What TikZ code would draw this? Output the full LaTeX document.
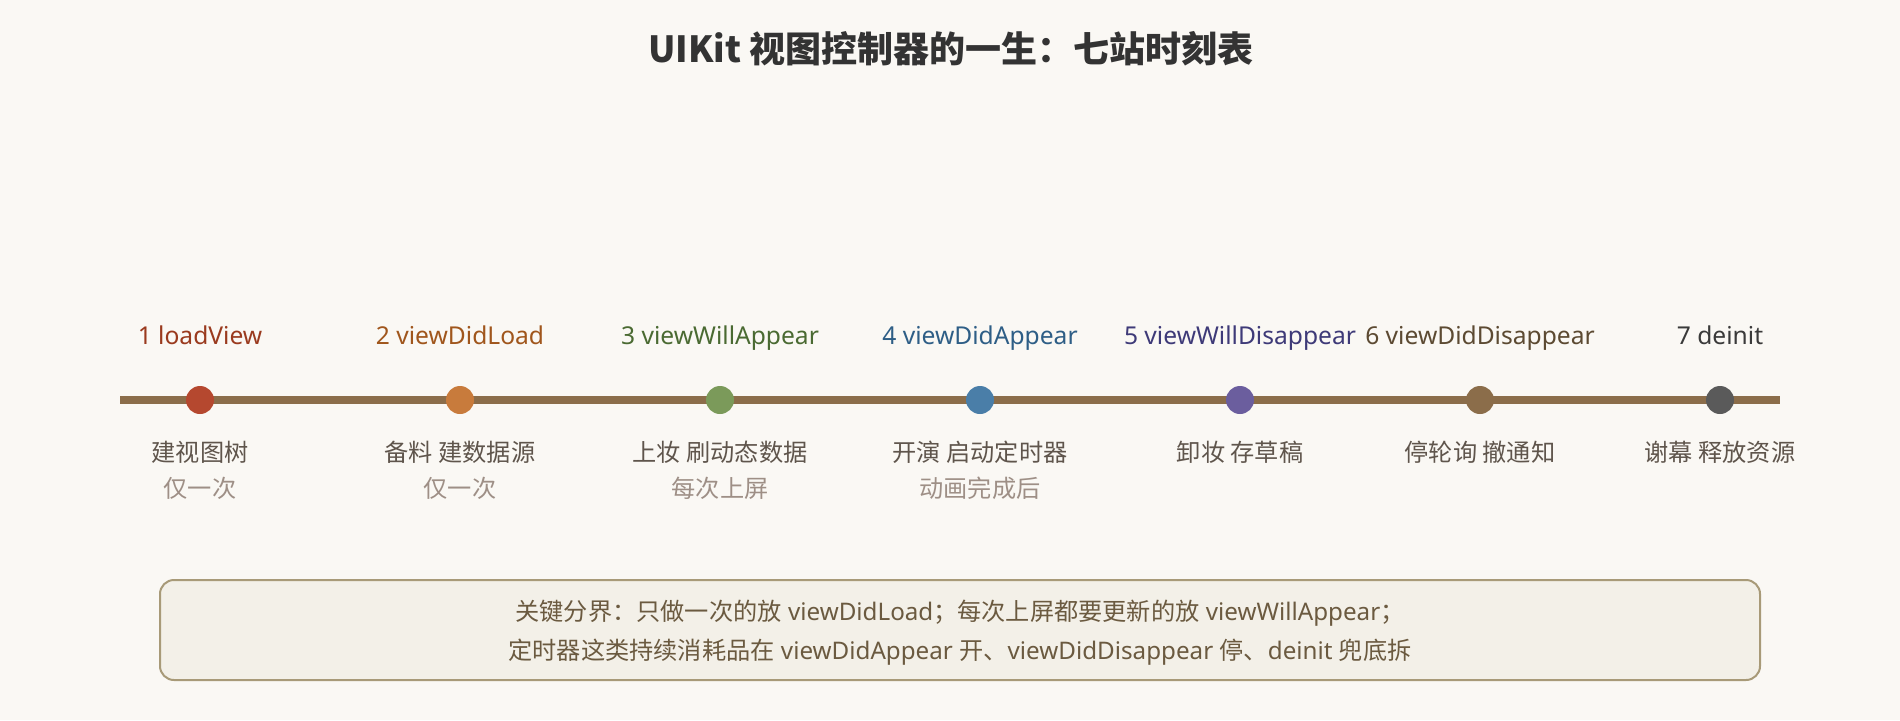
\documentclass[tikz,border=0pt]{standalone}
\usepackage{fontspec}
\newfontfamily\cjk{Noto Sans CJK SC}
\newfontfamily\lat{Noto Sans}
\definecolor{bgc}{HTML}{FAF8F4}
\definecolor{linec}{HTML}{8B6D4A}
\definecolor{titlec}{HTML}{333333}
\definecolor{dotA}{HTML}{B5482F}
\definecolor{dotB}{HTML}{C87B3C}
\definecolor{dotC}{HTML}{7B9A5A}
\definecolor{dotD}{HTML}{4A7EA8}
\definecolor{dotE}{HTML}{6B5E9E}
\definecolor{dotF}{HTML}{8B6D4A}
\definecolor{dotG}{HTML}{5A5A5A}
\definecolor{labA}{HTML}{9A3A1E}
\definecolor{labB}{HTML}{A0561C}
\definecolor{labC}{HTML}{4A6A32}
\definecolor{labD}{HTML}{2E5E86}
\definecolor{labE}{HTML}{3E3A78}
\definecolor{labF}{HTML}{5C4A32}
\definecolor{labG}{HTML}{3A3A3A}
\definecolor{subc}{HTML}{5F554C}
\definecolor{subtwo}{HTML}{9E8F86}
\definecolor{boxfill}{HTML}{F3F0E8}
\definecolor{boxdraw}{HTML}{A89A78}
\definecolor{notec}{HTML}{6B5A40}
\tikzset{
  stationdot/.style={circle, minimum size=28pt, inner sep=0pt, draw=none},
  toplabel/.style={anchor=base, inner sep=0pt, font=\lat\fontsize{24.6}{28}\selectfont},
  sublabel/.style={anchor=base, inner sep=0pt, text=subc, font=\cjk\fontsize{24.2}{28}\selectfont},
  subnote/.style={anchor=base, inner sep=0pt, text=subtwo, font=\cjk\fontsize{24.2}{28}\selectfont},
  timeline/.style={draw=linec, line width=8pt},
  notebox/.style={draw=boxdraw, fill=boxfill, line width=2pt, rounded corners=14pt},
  notetext/.style={anchor=base, inner sep=0pt, text=notec, font=\fontsize{24.2}{28}\selectfont},
}
\begin{document}
\begin{tikzpicture}[x=1pt, y=-1pt]
\fill[bgc] (0,0) rectangle (1900,720);
\useasboundingbox (0,0) rectangle (1900,720);
\node[anchor=base, inner sep=0pt, text=titlec, font=\cjk\fontsize{36}{42}\selectfont\bfseries] (title) at (951,62)
  {UIKit 视图控制器的一生：七站时刻表};
\coordinate (tl) at (120,400);
\coordinate (tr) at (1780,400);
\draw[timeline] (tl) -- (tr);
\node[stationdot, fill=dotA] (d1) at (200,400) {};
\node[stationdot, fill=dotB] (d2) at (460,400) {};
\node[stationdot, fill=dotC] (d3) at (720,400) {};
\node[stationdot, fill=dotD] (d4) at (980,400) {};
\node[stationdot, fill=dotE] (d5) at (1240,400) {};
\node[stationdot, fill=dotF] (d6) at (1480,400) {};
\node[stationdot, fill=dotG] (d7) at (1720,400) {};
\node[toplabel, text=labA] (l1) at (200,344) {1 loadView};
\node[toplabel, text=labB] (l2) at (460,344) {2 viewDidLoad};
\node[toplabel, text=labC] (l3) at (720,344) {3 viewWillAppear};
\node[toplabel, text=labD] (l4) at (980,344) {4 viewDidAppear};
\node[toplabel, text=labE] (l5) at (1240,344) {5 viewWillDisappear};
\node[toplabel, text=labF] (l6) at (1480,344) {6 viewDidDisappear};
\node[toplabel, text=labG] (l7) at (1720,344) {7 deinit};
\node[sublabel] (s1) at (200,461) {建视图树};
\node[sublabel] (s2) at (460,461) {备料 建数据源};
\node[sublabel] (s3) at (720,461) {上妆 刷动态数据};
\node[sublabel] (s4) at (980,461) {开演 启动定时器};
\node[sublabel] (s5) at (1240,461) {卸妆 存草稿};
\node[sublabel] (s6) at (1480,461) {停轮询 撤通知};
\node[sublabel] (s7) at (1720,461) {谢幕 释放资源};
\node[subnote] (n1) at (200,497) {仅一次};
\node[subnote] (n2) at (460,497) {仅一次};
\node[subnote] (n3) at (720,497) {每次上屏};
\node[subnote] (n4) at (980,497) {动画完成后};
\draw[notebox] (160,580) rectangle (1760,680);
\node[notetext] (t1) at (960,620)
  {{\cjk 关键分界：只做一次的放}{\lat\ viewDidLoad}{\cjk ；每次上屏都要更新的放}{\lat\ viewWillAppear}{\cjk ；}};
\node[notetext] (t2) at (960,659)
  {{\cjk 定时器这类持续消耗品在}{\lat\ viewDidAppear }{\cjk 开、}{\lat viewDidDisappear }{\cjk 停、}{\lat deinit }{\cjk 兜底拆}};
\end{tikzpicture}
\end{document}
